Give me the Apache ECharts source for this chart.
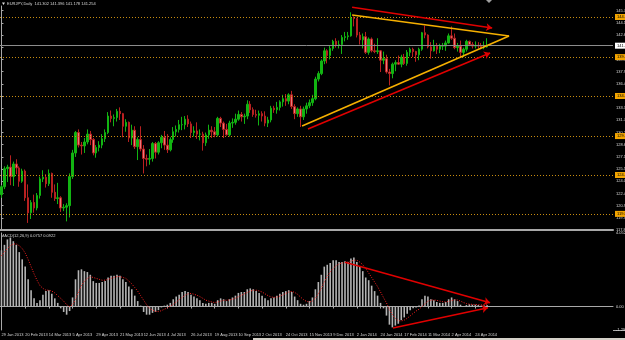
<!DOCTYPE html>
<html>
<head>
<meta charset="UTF-8">
<title>EURJPY,Daily</title>
<script src="https://cdn.jsdelivr.net/npm/echarts/dist/echarts.min.js"></script>
<style>
  html, body { margin: 0; padding: 0; background: #000; }
  #chart { width: 625px; height: 340px; }
</style>
</head>
<body>
<div id="chart"></div>
<script>
// one candle = 2 trading days, starting 29 Jan 2013
var opens = [122.3,123.3,125.6,125.8,124.6,126.2,125.7,124.0,125.3,121.9,
  120.0,121.3,120.6,122.2,124.3,124.5,123.7,125.0,122.6,121.8,
  121.9,120.6,120.7,120.9,124.6,127.6,130.2,128.6,128.5,129.0,
  130.0,129.3,127.6,128.3,128.6,129.4,130.2,132.3,132.0,132.1,
  132.9,132.6,131.0,131.5,129.5,130.5,128.4,129.3,128.1,126.9,
  126.8,126.9,128.8,127.7,128.9,129.6,128.6,128.0,129.3,130.3,
  130.6,131.2,131.2,131.9,131.3,130.2,130.4,130.0,130.0,128.9,
  129.9,130.5,130.3,129.9,132.0,131.4,130.6,129.9,131.4,131.5,
  131.9,132.5,132.2,132.3,133.8,133.1,132.5,132.4,132.6,132.3,
  131.4,131.8,133.3,133.1,133.4,134.1,134.5,134.2,135.0,133.5,
  132.6,133.2,132.2,133.2,133.6,134.0,134.5,137.0,137.7,139.3,
  140.6,140.0,140.9,141.8,141.4,141.4,142.3,142.4,142.5,144.8,
  144.7,142.6,142.0,142.4,140.4,142.1,140.6,140.5,140.6,139.4,
  139.6,137.9,137.7,138.9,139.1,138.9,139.8,139.0,140.4,140.8,
  140.5,140.1,140.8,142.9,142.6,141.1,140.6,141.2,140.8,141.2,
  141.2,141.6,142.5,142.2,141.0,141.2,140.4,140.8,141.8,141.4,
  141.2,141.3,141.2,141.1,141.1];
var closes = [123.3,125.6,125.8,124.6,126.2,125.7,124.0,125.3,121.9,120.0,
  121.3,120.6,122.2,124.3,124.5,123.7,125.0,122.6,121.8,121.9,
  120.6,120.7,120.9,124.6,127.6,130.2,128.6,128.5,129.0,130.0,
  129.3,127.6,128.3,128.6,129.4,130.2,132.3,132.0,132.1,132.9,
  132.6,131.0,131.5,129.5,130.5,128.4,129.3,128.1,126.9,126.8,
  126.9,128.8,127.7,128.9,129.6,128.6,128.0,129.3,130.3,130.6,
  131.2,131.2,131.9,131.3,130.2,130.4,130.0,130.0,128.9,129.9,
  130.5,130.3,129.9,132.0,131.4,130.6,129.9,131.4,131.5,131.9,
  132.5,132.2,132.3,133.8,133.1,132.5,132.4,132.6,132.3,131.4,
  131.8,133.3,133.1,133.4,134.1,134.5,134.2,135.0,133.5,132.6,
  133.2,132.2,133.2,133.6,134.0,134.5,137.0,137.7,139.3,140.6,
  140.0,140.9,141.8,141.4,141.4,142.3,142.4,142.5,144.8,144.7,
  142.6,142.0,142.4,140.4,142.1,140.6,140.5,140.6,139.4,139.6,
  137.9,137.7,138.9,139.1,138.9,139.8,139.0,140.4,140.8,140.5,
  140.1,140.8,142.9,142.6,141.1,140.6,141.2,140.8,141.2,141.2,
  141.6,142.5,142.2,141.0,141.2,140.4,140.8,141.8,141.4,141.2,
  141.3,141.2,141.1,141.1,141.25];
var lows = [121.9,123.0,123.9,123.5,123.4,124.9,123.3,123.8,121.5,118.7,
  119.2,120.0,120.3,121.8,123.9,123.2,123.4,121.9,121.5,121.1,
  120.1,120.2,118.9,119.4,124.3,127.1,128.3,127.4,127.6,128.7,
  128.6,127.3,127.0,127.8,128.2,129.0,130.0,131.5,131.0,131.6,
  131.8,129.6,130.3,129.0,128.6,128.1,126.7,127.8,125.0,125.9,
  126.1,126.5,126.9,127.4,128.2,128.0,127.6,127.8,128.9,129.7,
  130.2,130.5,130.6,130.9,129.5,129.7,129.4,129.2,127.9,128.5,
  129.4,129.5,129.6,129.7,130.9,129.5,129.8,129.7,130.8,131.2,
  131.7,131.6,131.3,131.9,132.7,132.2,132.1,131.1,131.6,131.0,
  130.9,131.5,132.7,132.6,133.0,133.5,133.6,133.8,133.2,131.9,
  132.2,130.9,131.8,132.6,133.3,133.6,134.3,136.7,137.5,138.9,
  139.0,139.5,140.6,141.0,140.9,140.2,141.8,142.0,142.4,143.7,
  142.3,141.4,140.9,140.2,140.1,140.4,140.3,140.2,137.9,138.9,
  137.7,136.2,137.1,138.0,138.8,138.5,138.8,138.7,139.9,139.8,
  139.2,139.4,140.6,142.2,140.9,139.6,140.5,140.2,140.3,140.7,
  140.6,141.5,142.0,140.8,140.5,139.8,139.8,140.5,141.2,140.9,
  140.9,140.9,140.8,140.8,141.0];
var highs = [123.5,125.9,126.1,127.3,126.5,126.8,125.9,125.6,125.5,123.6,
  121.6,122.3,122.5,124.6,125.4,124.9,125.5,125.1,123.6,123.8,
  122.1,121.1,121.2,125.0,128.0,130.4,130.6,129.0,129.5,130.6,
  130.4,129.5,128.6,129.1,130.0,130.6,132.8,133.0,132.5,133.2,
  133.4,132.7,131.9,131.6,131.2,131.0,129.6,131.0,128.6,127.4,
  128.1,129.0,129.0,129.1,129.9,130.4,130.0,129.6,130.9,131.1,
  131.8,132.2,132.3,132.4,131.6,131.0,131.5,130.6,130.3,130.2,
  131.2,131.0,130.9,132.2,132.2,131.6,131.3,131.7,132.0,132.6,
  133.0,132.8,132.6,134.3,134.2,133.4,133.1,133.0,132.9,132.9,
  132.2,133.6,133.6,134.1,134.3,135.0,135.1,135.2,135.5,133.8,
  133.4,133.6,133.5,134.0,134.4,135.0,137.3,138.0,139.5,141.0,
  140.8,141.2,142.0,142.2,141.9,142.6,143.0,143.0,145.5,145.0,
  144.8,143.0,142.8,143.0,142.3,142.3,141.5,142.2,140.7,140.5,
  140.1,138.3,139.1,139.4,140.0,140.1,140.2,140.7,141.0,141.0,
  140.6,141.0,143.0,143.8,142.7,141.7,142.0,141.6,141.5,141.6,
  141.9,142.8,143.7,142.8,141.6,141.9,141.0,142.0,141.9,141.7,
  141.8,141.7,141.6,141.8,142.2];

// MACD(12,26,9): main line drawn as histogram, signal as dotted line
var macdMain = [3.1,3.4,3.7,3.8,3.6,3.4,3.0,2.6,2.2,1.5,
  0.9,0.45,0.2,0.35,0.65,0.85,0.9,0.7,0.45,0.2,
  -0.1,-0.3,-0.45,-0.25,0.5,1.5,2.0,2.05,1.95,1.9,
  1.75,1.4,1.3,1.3,1.35,1.4,1.6,1.7,1.7,1.75,
  1.7,1.5,1.35,1.1,0.95,0.6,0.3,0.05,-0.3,-0.45,
  -0.45,-0.35,-0.3,-0.2,-0.05,0.05,0.1,0.2,0.4,0.55,
  0.65,0.8,0.85,0.8,0.65,0.55,0.45,0.35,0.2,0.15,
  0.2,0.2,0.15,0.35,0.45,0.4,0.3,0.4,0.5,0.6,
  0.75,0.8,0.8,0.95,1.0,0.95,0.85,0.75,0.6,0.45,
  0.35,0.45,0.5,0.6,0.7,0.8,0.85,0.9,0.8,0.55,
  0.35,0.15,0.1,0.15,0.3,0.5,0.95,1.35,1.75,2.2,
  2.3,2.4,2.55,2.55,2.45,2.45,2.5,2.45,2.65,2.7,
  2.45,2.2,1.95,1.6,1.45,1.15,0.85,0.6,0.2,-0.1,
  -0.5,-1.0,-1.15,-1.05,-0.95,-0.75,-0.6,-0.4,-0.2,-0.1,
  -0.05,0.05,0.4,0.6,0.55,0.4,0.35,0.25,0.2,0.2,
  0.25,0.4,0.5,0.4,0.3,0.1,0.0,0.08,0.12,0.1,
  0.1,0.08,0.05,0.05,0.0757];
var macdSignal = [2.8,3.0,3.2,3.35,3.45,3.45,3.35,3.2,2.95,2.6,
  2.2,1.8,1.45,1.15,1.0,0.9,0.9,0.85,0.75,0.6,
  0.45,0.3,0.1,0.0,0.1,0.4,0.8,1.15,1.4,1.55,
  1.65,1.6,1.55,1.5,1.45,1.45,1.5,1.55,1.6,1.65,
  1.65,1.6,1.55,1.4,1.25,1.05,0.85,0.6,0.35,0.1,
  -0.1,-0.2,-0.27,-0.28,-0.23,-0.15,-0.07,0.02,0.12,0.25,
  0.38,0.5,0.62,0.7,0.72,0.68,0.62,0.55,0.45,0.35,
  0.3,0.25,0.22,0.25,0.3,0.34,0.35,0.36,0.4,0.46,
  0.54,0.62,0.7,0.77,0.85,0.9,0.9,0.86,0.8,0.7,
  0.6,0.53,0.5,0.52,0.57,0.64,0.72,0.8,0.83,0.78,
  0.67,0.52,0.38,0.28,0.25,0.3,0.45,0.7,1.0,1.35,
  1.65,1.9,2.1,2.25,2.35,2.4,2.42,2.45,2.5,2.55,
  2.55,2.45,2.3,2.1,1.85,1.6,1.35,1.1,0.8,0.5,
  0.2,-0.15,-0.45,-0.65,-0.78,-0.8,-0.75,-0.65,-0.52,-0.38,
  -0.25,-0.15,0.0,0.15,0.3,0.35,0.36,0.34,0.3,0.27,
  0.25,0.28,0.33,0.37,0.36,0.3,0.22,0.16,0.13,0.12,
  0.11,0.1,0.09,0.09,0.0922];

var dateLabels = ['29 Jan 2013','20 Feb 2013','14 Mar 2013','5 Apr 2013','29 Apr 2013',
  '21 May 2013','12 Jun 2013','4 Jul 2013','26 Jul 2013','19 Aug 2013','10 Sep 2013',
  '2 Oct 2013','24 Oct 2013','15 Nov 2013','9 Dec 2013','2 Jan 2014','24 Jan 2014',
  '17 Feb 2014','11 Mar 2014','2 Apr 2014','24 Apr 2014'];

var hLevels = [144.9, 139.8, 134.85, 129.75, 124.8, 119.85];  // orange dotted lines
var bidPrice = 141.25;

// hand drawn objects, [slot, price] / [slot, macd]
var triUpper = [[118.4, 145.15], [171.4, 142.48]];
var triLower = [[101.5, 131.03], [171.4, 142.48]];
var arrowUpper = [[118.4, 146.15], [165.7, 143.5]];
var arrowLower = [[103.5, 130.65], [165.0, 140.32]];
var macdArrowUpper = [[116.0, 2.44], [165.0, 0.21]];
var macdArrowLower = [[132.2, -1.18], [164.3, -0.07]];

var SLOTS = 207;
var PRICE_MIN = 117.8, PRICE_MAX = 146.3, PRICE_STEP = 1.55;
var MACD_MIN = -1.2943, MACD_MAX = 4.0527;

var cats = [];
for (var i = 0; i < SLOTS; i++) cats.push(String(i));
var ohlc = [];
for (var j = 0; j < opens.length; j++) ohlc.push([opens[j], closes[j], lows[j], highs[j]]);

var txt = '#d8d8d8';
var axisCol = '#a8a8a8';
var small = { fontSize: 4, fontFamily: 'Liberation Sans' };

var levelLines = hLevels.map(function (v) {
  return {
    yAxis: v,
    lineStyle: { color: '#c88c10', type: [1, 2], width: 1 },
    label: { show: true, position: 'end', distance: 2, formatter: v.toFixed(3), color: '#000',
      backgroundColor: '#f2a400', padding: [1, 2], fontSize: 4, fontFamily: 'Liberation Sans' }
  };
});
levelLines.push({
  yAxis: bidPrice,
  lineStyle: { color: '#8c8c8c', type: 'solid', width: 1 },
  label: { show: true, position: 'end', distance: 2, formatter: bidPrice.toFixed(3), color: '#000',
    backgroundColor: '#ffffff', padding: [1, 2], fontSize: 4, fontFamily: 'Liberation Sans' }
});

var chart = echarts.init(document.getElementById('chart'), null, { renderer: 'canvas' });
chart.setOption({
  backgroundColor: '#000',
  animation: false,
  grid: [
    { left: 0, top: 6, width: 613, height: 224, containLabel: false, outerBoundsMode: 'none' },
    { left: 0, top: 233, width: 613, height: 97, containLabel: false, outerBoundsMode: 'none' }
  ],
  xAxis: [
    { type: 'category', gridIndex: 0, data: cats, boundaryGap: true,
      axisLine: { lineStyle: { color: axisCol, width: 2 } }, axisTick: { show: false },
      axisLabel: { show: false }, splitLine: { show: false } },
    { type: 'category', gridIndex: 1, data: cats, boundaryGap: true,
      axisLine: { lineStyle: { color: axisCol, width: 1 } },
      axisTick: { show: true, alignWithLabel: true, length: 2, lineStyle: { color: axisCol },
        interval: function (idx) { return idx % 8 === 0 && idx / 8 < dateLabels.length; } },
      axisLabel: { color: txt, fontSize: 4, fontFamily: 'Liberation Sans', align: 'left', margin: 3,
        interval: function (idx) { return idx % 8 === 0 && idx / 8 < dateLabels.length; },
        formatter: function (v, idx) { return dateLabels[idx / 8] || ''; } },
      splitLine: { show: false } },
    { type: 'value', gridIndex: 0, min: -0.5, max: SLOTS - 0.5, show: false },
    { type: 'value', gridIndex: 1, min: -0.5, max: SLOTS - 0.5, show: false }
  ],
  yAxis: [
    { type: 'value', gridIndex: 0, position: 'right', min: PRICE_MIN, max: PRICE_MAX, interval: PRICE_STEP,
      splitLine: { show: false },
      axisLine: { show: true, lineStyle: { color: axisCol } },
      axisTick: { show: true, length: 2, lineStyle: { color: axisCol } },
      axisLabel: { color: txt, fontSize: 4, fontFamily: 'Liberation Sans', margin: 3, showMaxLabel: false,
        formatter: function (v) { return v.toFixed(3); } } },
    { type: 'value', gridIndex: 1, position: 'right', min: MACD_MIN, max: MACD_MAX,
      splitLine: { show: false },
      axisLine: { show: true, lineStyle: { color: axisCol } },
      axisTick: { show: false },
      axisLabel: { color: txt, fontSize: 4, fontFamily: 'Liberation Sans', margin: 3,
        showMinLabel: true, showMaxLabel: true,
        formatter: function (v) {
          if (v === 0) return '0.00';
          if (Math.abs(v - MACD_MIN) < 1e-6 || Math.abs(v - MACD_MAX) < 1e-6) return v.toFixed(4);
          return '';
        } } }
  ],
  series: [
    { type: 'candlestick', xAxisIndex: 0, yAxisIndex: 0, data: ohlc, barWidth: 2,
      itemStyle: { color: '#12b412', color0: '#e67c7c', borderColor: '#12b412', borderColor0: '#b82020', borderWidth: 1 },
      markLine: { symbol: 'none', silent: true, animation: false, data: levelLines } },
    { type: 'bar', xAxisIndex: 1, yAxisIndex: 1, data: macdMain, barWidth: 1.6,
      itemStyle: { color: '#b4b4b4' } },
    { type: 'line', xAxisIndex: 1, yAxisIndex: 1, data: macdSignal, showSymbol: false, symbol: 'none',
      lineStyle: { color: '#ff2020', width: 1, type: [1, 1.5] } },
    { type: 'lines', coordinateSystem: 'cartesian2d', xAxisIndex: 2, yAxisIndex: 0, z: 5,
      lineStyle: { color: '#f6b000', width: 1.6, opacity: 1 },
      data: [{ coords: triUpper }, { coords: triLower }] },
    { type: 'lines', coordinateSystem: 'cartesian2d', xAxisIndex: 2, yAxisIndex: 0, z: 5,
      symbol: ['none', 'arrow'], symbolSize: 6,
      lineStyle: { color: '#e00000', width: 1.6, opacity: 1 },
      data: [{ coords: arrowUpper }, { coords: arrowLower }] },
    { type: 'lines', coordinateSystem: 'cartesian2d', xAxisIndex: 3, yAxisIndex: 1, z: 5,
      symbol: ['none', 'arrow'], symbolSize: 6,
      lineStyle: { color: '#e00000', width: 1.6, opacity: 1 },
      data: [{ coords: macdArrowUpper }, { coords: macdArrowLower }] }
  ],
  graphic: [
    { type: 'polygon', shape: { points: [[2, 2.5], [5, 2.5], [3.5, 5]] }, style: { fill: '#e0e0e0' } },
    { type: 'text', left: 7, top: 2, style: { text: 'EURJPY,Daily  141.302 141.396 141.178 141.254', fill: txt, fontSize: 4, fontFamily: 'Liberation Sans' } },
    { type: 'text', left: 1, top: 234, style: { text: 'MACD(12,26,9) 0.0757 0.0922', fill: txt, fontSize: 4, fontFamily: 'Liberation Sans' } },
    { type: 'polygon', shape: { points: [[486, 0], [492, 0], [489, 3]] }, style: { fill: '#a0a0a0' } },
    { type: 'line', shape: { x1: 613, y1: 330.5, x2: 625, y2: 330.5 }, style: { stroke: axisCol, lineWidth: 1 } },
    { type: 'rect', shape: { x: 253, y: 338, width: 372, height: 2 }, style: { fill: '#d4d0c8' } }
  ]
});
</script>
</body>
</html>
